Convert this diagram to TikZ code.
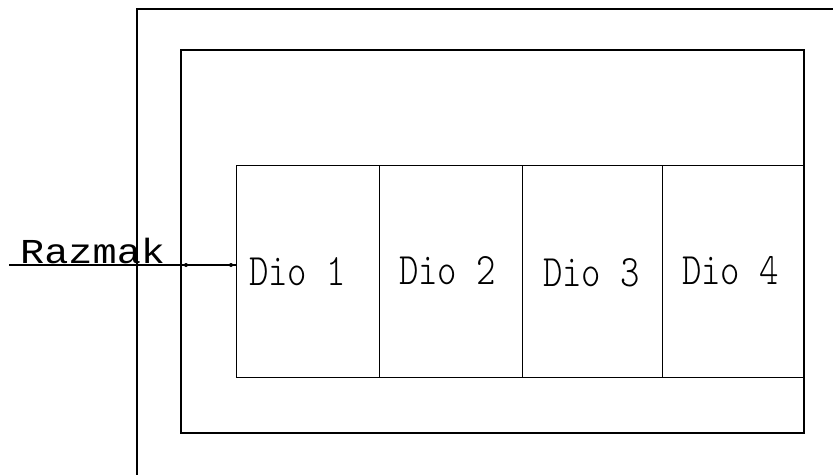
\documentclass[tikz,border=0pt]{standalone}
\usepackage{fontspec}
\newfontfamily\razfont[FakeStretch=1.15]{Liberation Mono}
\newfontfamily\diofont[Extension=.otf,FakeStretch=0.82]{lmmonolt10-regular}
\begin{document}
\begin{tikzpicture}[x=1pt,y=-1pt,
  frame/.style={line width=1.3pt,black},
  cell/.style={draw,line width=1.3pt,minimum height=212pt,inner sep=0pt,anchor=north west},
  diolabel/.style={font=\diofont\fontsize{45}{45}\selectfont,inner sep=0pt,anchor=base west},
  razlabel/.style={font=\razfont\fontsize{35}{35}\selectfont,inner sep=0pt,anchor=base west},
  dot/.style={circle,fill=black,inner sep=0pt,minimum size=4pt}]
\useasboundingbox (0,0) rectangle (833,475);
% outer frame (top and left only visible)
\draw[frame] (833,9) -- (137,9) -- (137,475);
% middle frame
\draw[frame] (181,50) rectangle (804,433);
% cells
\node[cell,minimum width=143pt] (c1) at (236,165) {};
\node[cell,minimum width=143pt] (c2) at (379,165) {};
\node[cell,minimum width=140pt] (c3) at (522,165) {};
\node[cell,minimum width=142pt] (c4) at (662,165) {};
% labels
\node[diolabel] (d1) at (249,285) {Dio 1};
\node[diolabel] (d2) at (399,284) {Dio 2};
\node[diolabel] (d3) at (543,286) {Dio 3};
\node[diolabel] (d4) at (682,284) {Dio 4};
\node[razlabel] (raz) at (20,263) {Razmak};
% connector
\coordinate (s) at (9,265);
\coordinate (e) at (236,265);
\draw[line width=1.3pt] (s) -- (e);
\node[dot] (p1) at (186,265) {};
\node[dot] (p2) at (231,265) {};
\end{tikzpicture}
\end{document}
